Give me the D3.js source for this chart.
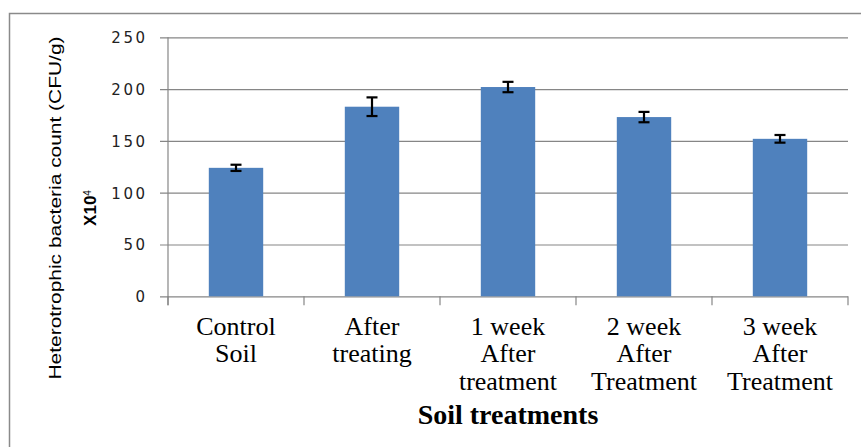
<!DOCTYPE html>
<html>
<head>
<meta charset="utf-8">
<script src="https://cdn.jsdelivr.net/npm/d3@7"></script>
<style>
  html, body { margin: 0; padding: 0; background: #fff; }
  svg { display: block; }
</style>
</head>
<body>
<svg id="chart" width="861" height="447"></svg>
<script>
// data
const categories = ["Control Soil", "After treating", "1 week After treatment", "2 week After Treatment", "3 week After Treatment"];
const labelLines = [["Control", "Soil"], ["After", "treating"], ["1 week", "After", "treatment"], ["2 week", "After", "Treatment"], ["3 week", "After", "Treatment"]];
const counts = [124, 183, 202, 173, 152];
const errors = [3, 9, 5, 5, 3.7];
const yTicks = [0, 50, 100, 150, 200, 250];

const W = 861, H = 447;
const margin = { top: 37.3, left: 168, right: 13, bottom: 150.7 };
const boundsWidth = W - margin.left - margin.right;
const boundsHeight = H - margin.top - margin.bottom;

const svg = d3.select("#chart");

// outer frame of the chart object (only the left and top edges show)
svg.append("rect")
  .attr("x", 9.5).attr("y", 13.5)
  .attr("width", 1000).attr("height", 1000)
  .attr("fill", "none")
  .attr("stroke", "#8a8a8a")
  .attr("stroke-width", 1.5);

const scaleX = d3.scaleBand()
  .domain(categories)
  .range([0, boundsWidth])
  .paddingInner(0.6)
  .paddingOuter(0.3);

const scaleY = d3.scaleLinear()
  .domain([0, 250])
  .range([boundsHeight, 0]);

const g = svg.append("g")
  .attr("transform", `translate(${margin.left}, ${margin.top})`);

// y axis with gridlines
const yAxis = d3.axisLeft(scaleY)
  .tickValues(yTicks)
  .tickSize(-boundsWidth)
  .tickSizeOuter(0)
  .tickFormat(d3.format("d"));

const yG = g.append("g").call(yAxis);
yG.select(".domain").remove();
yG.selectAll(".tick line")
  .attr("x1", -8)
  .attr("stroke", "#868686")
  .attr("stroke-width", 1.2);
yG.selectAll(".tick text")
  .attr("x", -20.5)
  .attr("dy", "0.36em")
  .style("font-family", "'DejaVu Sans', Verdana, sans-serif")
  .style("font-size", "15px")
  .style("letter-spacing", "2.5px")
  .attr("fill", "#222");

// vertical axis line
g.append("line")
  .attr("x1", 0).attr("x2", 0)
  .attr("y1", 0).attr("y2", boundsHeight + 9)
  .attr("stroke", "#868686")
  .attr("stroke-width", 1.2);

// category separator ticks under the x axis
const bounds = categories.map(c => scaleX(c) - scaleX.step() * 0.3).concat([boundsWidth]);
g.selectAll(".xtick")
  .data(bounds)
  .enter()
  .append("line")
  .attr("class", "xtick")
  .attr("x1", d => d).attr("x2", d => d)
  .attr("y1", boundsHeight).attr("y2", boundsHeight + 9)
  .attr("stroke", "#868686")
  .attr("stroke-width", 1.2);

// bars
g.selectAll(".bar")
  .data(counts)
  .enter()
  .append("rect")
  .attr("class", "bar")
  .attr("x", (d, i) => scaleX(categories[i]))
  .attr("y", d => scaleY(d))
  .attr("width", scaleX.bandwidth())
  .attr("height", d => boundsHeight - scaleY(d))
  .style("fill", "#4F81BD");

// error bars
const eb = g.selectAll(".err")
  .data(counts)
  .enter()
  .append("g")
  .attr("class", "err")
  .attr("stroke", "#000")
  .attr("stroke-width", 2.2);
const cx = (i) => scaleX(categories[i]) + scaleX.bandwidth() / 2;
eb.append("line")
  .attr("x1", (d, i) => cx(i)).attr("x2", (d, i) => cx(i))
  .attr("y1", (d, i) => scaleY(d + errors[i]))
  .attr("y2", (d, i) => scaleY(d - errors[i]));
eb.append("line")
  .attr("x1", (d, i) => cx(i) - 5.5).attr("x2", (d, i) => cx(i) + 5.5)
  .attr("y1", (d, i) => scaleY(d + errors[i]))
  .attr("y2", (d, i) => scaleY(d + errors[i]));
eb.append("line")
  .attr("x1", (d, i) => cx(i) - 5.5).attr("x2", (d, i) => cx(i) + 5.5)
  .attr("y1", (d, i) => scaleY(d - errors[i]))
  .attr("y2", (d, i) => scaleY(d - errors[i]));

// category labels, several lines each
labelLines.forEach((lines, i) => {
  lines.forEach((txt, j) => {
    g.append("text")
      .attr("x", cx(i))
      .attr("y", boundsHeight + 38.7 + j * 27.5)
      .attr("text-anchor", "middle")
      .style("font-family", "'Liberation Serif', 'Times New Roman', serif")
      .style("font-size", "26px")
      .attr("fill", "#000")
      .text(txt);
  });
});

// x axis title
svg.append("text")
  .attr("x", margin.left + boundsWidth / 2)
  .attr("y", 424)
  .attr("text-anchor", "middle")
  .style("font-family", "'Liberation Serif', 'Times New Roman', serif")
  .style("font-size", "28px")
  .style("font-weight", "bold")
  .attr("fill", "#000")
  .text("Soil treatments");

// y axis title, two lines
svg.append("text")
  .attr("transform", "translate(60.5, 208) rotate(-90)")
  .attr("text-anchor", "middle")
  .attr("textLength", 343)
  .attr("lengthAdjust", "spacingAndGlyphs")
  .style("font-family", "'Liberation Sans', Arial, sans-serif")
  .style("font-size", "17px")
  .attr("fill", "#000")
  .text("Heterotrophic bacteria count (CFU/g)");

const t2 = svg.append("text")
  .attr("transform", "translate(96, 208) rotate(-90)")
  .attr("text-anchor", "middle")
  .style("font-family", "'Liberation Sans', Arial, sans-serif")
  .style("font-size", "17px")
  .style("font-weight", "bold")
  .attr("fill", "#000");
t2.append("tspan").text("X10");
t2.append("tspan")
  .attr("dy", "-0.55em")
  .style("font-size", "10px")
  .style("font-weight", "normal")
  .text("4");
</script>
</body>
</html>
